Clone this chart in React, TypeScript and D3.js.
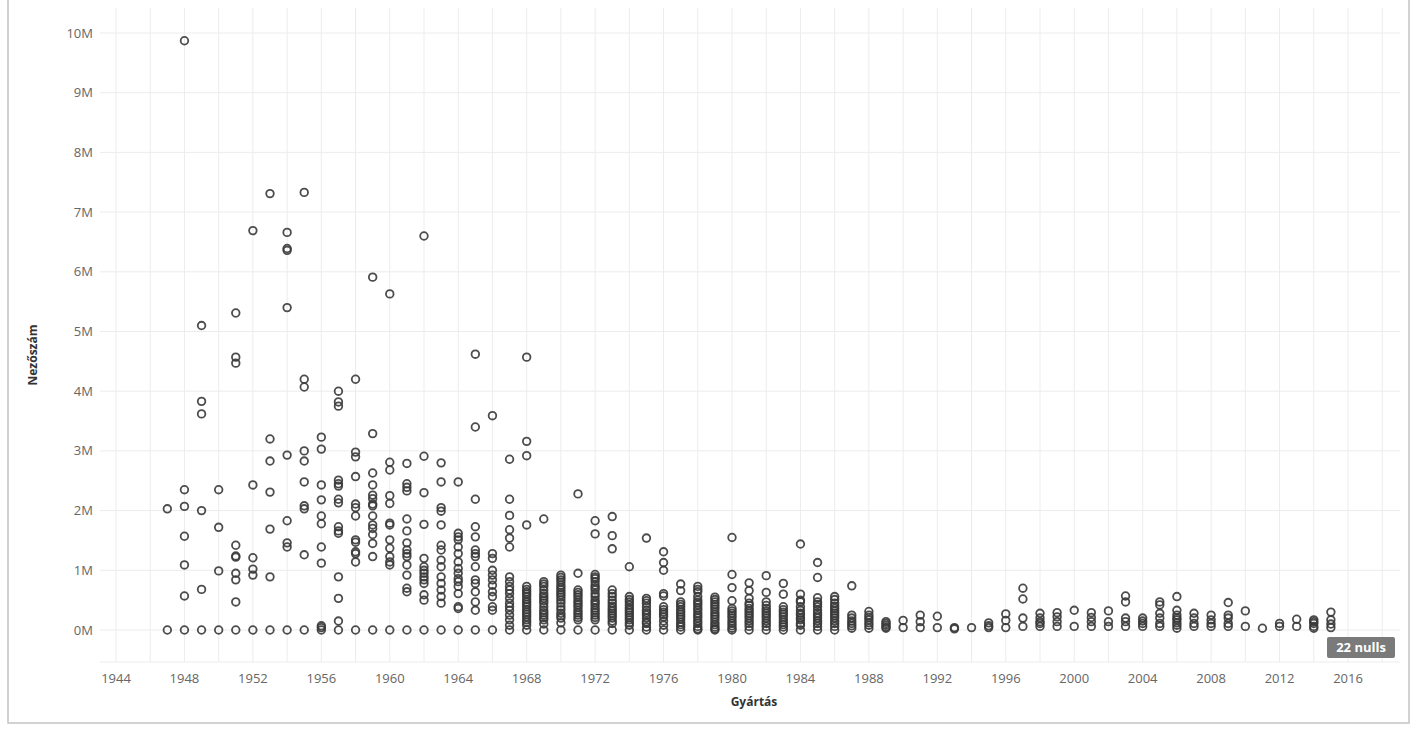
import React from "react";
import * as d3 from "d3";

// Year of production (Gyártás)
const years: number[] = [
  1947, 1948, 1949, 1950, 1951, 1952, 1953, 1954, 1955, 1956, 1957, 1958, 1959, 1960,
  1961, 1962, 1963, 1964, 1965, 1966, 1967, 1968, 1969, 1970, 1971, 1972, 1973, 1974,
  1975, 1976, 1977, 1978, 1979, 1980, 1981, 1982, 1983, 1984, 1985, 1986, 1987, 1988,
  1989, 1990, 1991, 1992, 1993, 1994, 1995, 1996, 1997, 1998, 1999, 2000, 2001, 2002,
  2003, 2004, 2005, 2006, 2007, 2008, 2009, 2010, 2011, 2012, 2013, 2014, 2015,
];

// Viewer counts (Nezőszám) in millions, one list per year above
const viewersM: number[][] = [
  [2.03, 0],
  [9.87, 2.35, 2.07, 1.57, 1.09, 0.57, 0],
  [5.1, 3.83, 3.62, 2.0, 0.68, 0],
  [2.35, 1.72, 0.99, 0],
  [5.31, 4.57, 4.47, 1.42, 1.24, 1.22, 0.95, 0.84, 0.47, 0],
  [6.69, 2.43, 1.21, 1.02, 0.92, 0],
  [7.31, 3.2, 2.83, 2.31, 1.69, 0.89, 0],
  [6.66, 6.39, 6.36, 5.4, 2.93, 1.83, 1.46, 1.39, 0],
  [7.33, 4.2, 4.07, 3.0, 2.83, 2.48, 2.08, 2.03, 1.26, 0],
  [3.23, 3.03, 2.43, 2.18, 1.91, 1.78, 1.39, 1.12, 0.07, 0.04, 0],
  [4.0, 3.82, 3.75, 2.51, 2.45, 2.41, 2.19, 2.13, 1.73, 1.66, 1.62, 0.89, 0.53, 0.15, 0],
  [4.2, 2.98, 2.9, 2.57, 2.11, 2.05, 1.91, 1.51, 1.47, 1.31, 1.28, 1.14, 0],
  [5.91, 3.29, 2.63, 2.43, 2.26, 2.2, 2.11, 2.08, 1.91, 1.76, 1.7, 1.6, 1.45, 1.23, 0],
  [5.63, 2.81, 2.68, 2.25, 2.12, 1.79, 1.76, 1.51, 1.37, 1.23, 1.14, 1.09, 0],
  [2.79, 2.45, 2.39, 2.33, 1.86, 1.66, 1.46, 1.34, 1.28, 1.23, 1.09, 0.92, 0.7, 0.64, 0],
  [6.6, 2.91, 2.3, 1.77, 1.2, 1.06, 1.0, 0.95, 0.89, 0.84, 0.78, 0.59, 0.5, 0],
  [2.8, 2.48, 2.05, 1.99, 1.76, 1.42, 1.34, 1.17, 1.06, 0.89, 0.78, 0.67, 0.56, 0.45, 0],
  [2.48, 1.62, 1.56, 1.51, 1.39, 1.28, 1.14, 1.03, 0.95, 0.86, 0.81, 0.73, 0.61, 0.39, 0.36, 0],
  [4.62, 3.4, 2.19, 1.73, 1.56, 1.34, 1.28, 1.23, 1.06, 0.84, 0.78, 0.64, 0.47, 0.33, 0],
  [3.59, 1.28, 1.2, 1.0, 0.92, 0.84, 0.75, 0.64, 0.56, 0.39, 0.33, 0],
  [2.86, 2.19, 1.92, 1.68, 1.54, 1.39, 0.89, 0.81, 0.73, 0.67, 0.61, 0.53, 0.45, 0.39, 0.33, 0.25, 0.17, 0.08, 0],
  [4.57, 3.16, 2.92, 1.76, 0.73, 0.68, 0.64, 0.6, 0.56, 0.51, 0.47, 0.43, 0.39, 0.34, 0.3, 0.26, 0.22, 0.17, 0.13, 0.08, 0],
  [1.86, 0.81, 0.77, 0.73, 0.67, 0.61, 0.57, 0.53, 0.49, 0.45, 0.39, 0.33, 0.29, 0.25, 0.21, 0.17, 0.1, 0],
  [0.92, 0.88, 0.84, 0.8, 0.75, 0.71, 0.67, 0.63, 0.59, 0.55, 0.5, 0.45, 0.39, 0.34, 0.28, 0.24, 0.2, 0.12, 0],
  [2.28, 0.95, 0.67, 0.63, 0.59, 0.55, 0.5, 0.46, 0.42, 0.38, 0.33, 0.29, 0.25, 0.21, 0.17, 0],
  [1.83, 1.61, 0.93, 0.89, 0.86, 0.81, 0.75, 0.71, 0.67, 0.61, 0.56, 0.5, 0.46, 0.42, 0.37, 0.33, 0.29, 0.25, 0.21, 0.17, 0],
  [1.9, 1.58, 1.36, 0.67, 0.61, 0.56, 0.5, 0.45, 0.4, 0.36, 0.32, 0.28, 0.24, 0.2, 0.15, 0.11, 0],
  [1.06, 0.56, 0.51, 0.47, 0.42, 0.37, 0.33, 0.29, 0.25, 0.21, 0.17, 0.12, 0.08, 0],
  [1.54, 0.53, 0.49, 0.45, 0.39, 0.33, 0.29, 0.25, 0.2, 0.14, 0.11, 0.05, 0],
  [1.31, 1.13, 1.0, 0.61, 0.57, 0.39, 0.34, 0.3, 0.26, 0.22, 0.15, 0.08, 0],
  [0.77, 0.66, 0.47, 0.43, 0.39, 0.34, 0.3, 0.26, 0.22, 0.18, 0.13, 0.09, 0.05, 0],
  [0.73, 0.68, 0.64, 0.56, 0.5, 0.46, 0.42, 0.37, 0.33, 0.28, 0.24, 0.2, 0.15, 0.11, 0.06, 0.02, 0],
  [0.55, 0.51, 0.47, 0.43, 0.39, 0.35, 0.3, 0.26, 0.22, 0.18, 0.13, 0.09, 0.05, 0.02, 0],
  [1.55, 0.93, 0.71, 0.49, 0.36, 0.32, 0.28, 0.24, 0.2, 0.15, 0.11, 0.07, 0.03, 0],
  [0.79, 0.66, 0.53, 0.45, 0.41, 0.36, 0.32, 0.28, 0.24, 0.2, 0.15, 0.11, 0.06, 0],
  [0.91, 0.63, 0.47, 0.41, 0.36, 0.32, 0.28, 0.24, 0.2, 0.15, 0.11, 0.06, 0],
  [0.78, 0.6, 0.39, 0.34, 0.3, 0.26, 0.22, 0.17, 0.13, 0.09, 0.05, 0],
  [1.44, 0.6, 0.5, 0.47, 0.39, 0.33, 0.28, 0.25, 0.2, 0.17, 0.11, 0.08, 0],
  [1.13, 0.88, 0.54, 0.47, 0.43, 0.39, 0.33, 0.28, 0.24, 0.2, 0.15, 0.11, 0.06, 0],
  [0.56, 0.51, 0.45, 0.4, 0.36, 0.32, 0.28, 0.24, 0.2, 0.15, 0.11, 0.06, 0],
  [0.74, 0.25, 0.2, 0.15, 0.11, 0.07, 0.03],
  [0.31, 0.25, 0.21, 0.17, 0.12, 0.08, 0.03],
  [0.14, 0.11, 0.08, 0.05, 0.03],
  [0.16, 0.04],
  [0.25, 0.14, 0.04],
  [0.23, 0.04],
  [0.04, 0.02],
  [0.04],
  [0.12, 0.07, 0.04],
  [0.27, 0.16, 0.04],
  [0.7, 0.52, 0.2, 0.06],
  [0.28, 0.2, 0.14, 0.11, 0.06],
  [0.29, 0.22, 0.14, 0.06],
  [0.33, 0.06],
  [0.29, 0.21, 0.14, 0.06],
  [0.32, 0.14, 0.06],
  [0.57, 0.47, 0.2, 0.14, 0.06],
  [0.2, 0.15, 0.11, 0.06],
  [0.47, 0.42, 0.28, 0.2, 0.11, 0.06],
  [0.56, 0.33, 0.25, 0.2, 0.17, 0.12, 0.08, 0.03],
  [0.28, 0.2, 0.11, 0.06],
  [0.25, 0.17, 0.11, 0.06],
  [0.46, 0.25, 0.2, 0.11, 0.06],
  [0.32, 0.06],
  [0.03],
  [0.11, 0.06],
  [0.18, 0.06],
  [0.17, 0.14, 0.11, 0.06, 0.03],
  [0.3, 0.17, 0.1, 0.04],
];

const yTicks: number[] = [0, 1, 2, 3, 4, 5, 6, 7, 8, 9, 10];
const xTickLabels: number[] = [1944, 1948, 1952, 1956, 1960, 1964, 1968, 1972, 1976, 1980, 1984, 1988, 1992, 1996, 2000, 2004, 2008, 2012, 2016];
const xGridYears: number[] = d3.range(1944, 2019, 2);
const nullCount = 22;

const W = 1417;
const H = 729;
const plotLeft = 100;
const plotRight = 1400;
const plotTop = 8;
const plotBottom = 662;

export default function App() {
  const x = d3.scaleLinear().domain([1944, 2016]).range([116, 1348]);
  const y = d3.scaleLinear().domain([0, 10]).range([630, 33]);
  const font = "'Open Sans', 'Noto Sans', sans-serif";

  const points: { yr: number; v: number }[] = [];
  years.forEach((yr, i) => viewersM[i].forEach((v) => points.push({ yr, v })));

  return (
    <svg
      width={W}
      height={H}
      style={{ position: "absolute", left: 0, top: 0, background: "#fff" }}
      fontFamily={font}
    >
      <rect x={8} y={-2} width={1401} height={725} fill="#fff" stroke="#c4c4c4" strokeWidth={1.5} />
      {/* grid */}
      <g>
        {xGridYears.map((yr) => (
          <line key={"vx" + yr} x1={x(yr)} x2={x(yr)} y1={plotTop} y2={plotBottom} stroke="#ececec" strokeWidth={1} />
        ))}
        {yTicks.map((t) => (
          <line key={"hy" + t} x1={plotLeft} x2={plotRight} y1={y(t)} y2={y(t)} stroke="#ececec" strokeWidth={1} />
        ))}
        <line x1={plotLeft} x2={plotRight} y1={plotBottom} y2={plotBottom} stroke="#ececec" strokeWidth={1} />
      </g>
      {/* y tick labels */}
      <g fontSize={13} fill="#666">
        {yTicks.map((t) => (
          <text key={"yl" + t} x={93} y={y(t)} dy="0.35em" textAnchor="end">
            {t + "M"}
          </text>
        ))}
      </g>
      {/* x tick labels */}
      <g fontSize={13} fill="#666">
        {xTickLabels.map((t) => (
          <text key={"xl" + t} x={x(t)} y={678} dy="0.35em" textAnchor="middle">
            {t}
          </text>
        ))}
      </g>
      {/* axis titles */}
      <text x={754} y={706} textAnchor="middle" fontSize={12} fontWeight="bold" fill="#333">
        Gyártás
      </text>
      <text
        transform={`translate(37, 355) rotate(-90)`}
        textAnchor="middle"
        fontSize={12}
        fontWeight="bold"
        fill="#333"
      >
        Nezőszám
      </text>
      {/* points */}
      <g fill="none" stroke="#383838" strokeWidth={1.8} strokeOpacity={0.9}>
        {points.map((p, i) => (
          <circle key={i} cx={x(p.yr)} cy={y(p.v)} r={3.8} />
        ))}
      </g>
      {/* nulls badge */}
      <rect x={1327} y={637} width={68} height={21} rx={2} fill="#7a7a7a" />
      <text x={1361} y={647.5} dy="0.35em" textAnchor="middle" fontSize={13} fontWeight="bold" fill="#fff">
        {nullCount} nulls
      </text>
    </svg>
  );
}
